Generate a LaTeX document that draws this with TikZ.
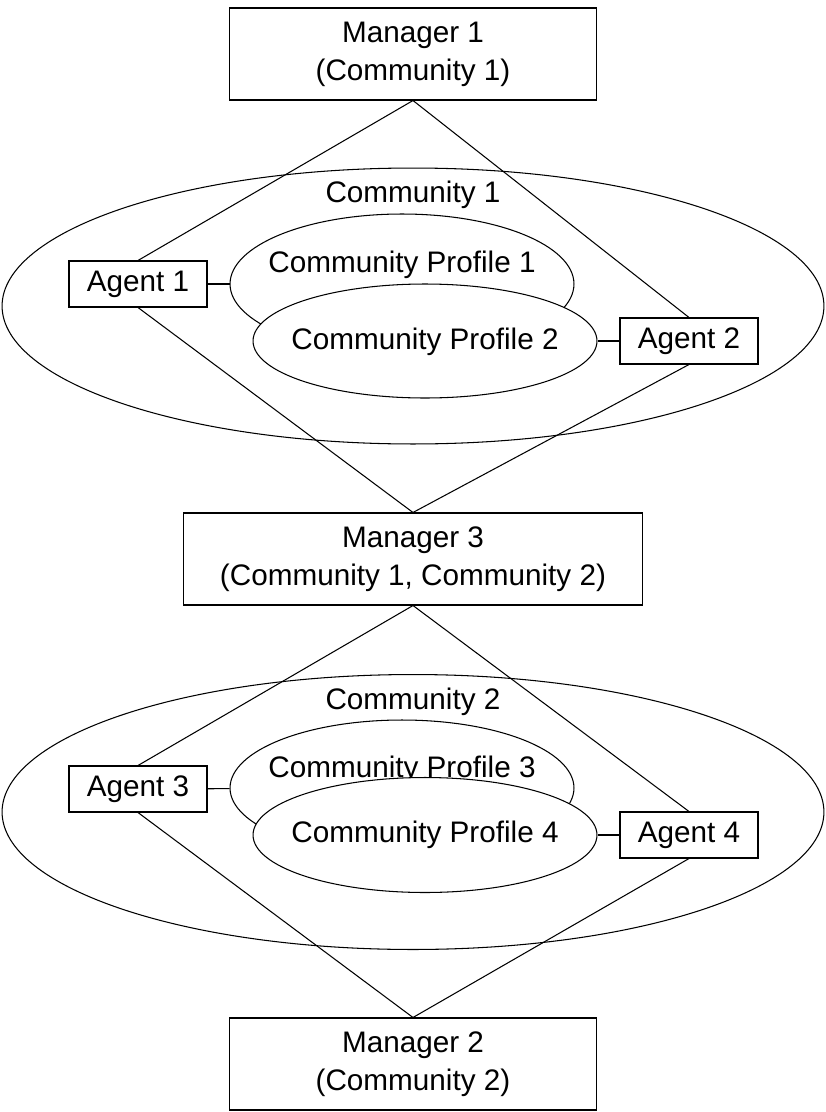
\documentclass[tikz,border=0pt]{standalone}
\usepackage{fontspec}
\setmainfont{Liberation Sans}
\usepackage{xcolor}
\usepackage{tikz}
\usetikzlibrary{positioning,shapes.geometric}
\definecolor{ink}{HTML}{000000}

\begin{document}
\begin{tikzpicture}[x=0.02cm,y=-0.02cm,line width=0.6pt,
  every node/.style={font=\fontsize{16.9}{21.5}\selectfont,text=ink},
  mg/.style={draw=ink,fill=white,inner sep=0pt,minimum width=7.34cm,minimum height=1.84cm,align=center},
  ag/.style={draw=ink,fill=white,inner sep=0pt,minimum width=2.76cm,minimum height=0.92cm},
  comm/.style={draw=ink,ellipse,inner sep=0pt,minimum width=16.44cm,minimum height=5.52cm},
  pf/.style={draw=ink,ellipse,inner sep=0pt,minimum width=6.88cm},
  e/.style={draw=ink}]
  \useasboundingbox (0,0) rectangle (825,1112);
  % first community
  \node[comm] (c1) at (413,306) {};
  \node (c1t) at (413,195) {Community 1};
  \node[pf,minimum height=2.8cm] (p1) at (402,284) {};
  \node (p1t) at (402,265) {Community Profile 1};
  \node[pf,fill=white,minimum height=2.28cm] (p2) at (425,341) {};
  \node (p2t) at (425,342) {Community Profile 2};
  % second community
  \node[comm,minimum height=5.5cm] (c2) at (413,812) {};
  \node (c2t) at (413,702) {Community 2};
  \node[pf,minimum height=2.72cm] (p3) at (402,788) {};
  \node (p3t) at (402,770) {Community Profile 3};
  \node[pf,fill=white,minimum height=2.3cm] (p4) at (425,835) {};
  \node (p4t) at (425,835) {Community Profile 4};
  % managers and agents
  \node[mg] (m1) at (413,54) {Manager 1\\(Community 1)};
  \node[mg,minimum width=9.18cm] (m3) at (413,559) {Manager 3\\(Community 1, Community 2)};
  \node[mg] (m2) at (413,1064) {Manager 2\\(Community 2)};
  \node[ag] (a1) at (138,284) {Agent 1};
  \node[ag] (a2) at (689,341) {Agent 2};
  \node[ag] (a3) at (138,789) {Agent 3};
  \node[ag] (a4) at (689,835) {Agent 4};
  \draw[e] (a1)--(p1); \draw[e] (a2)--(p2);
  \draw[e] (a3)--(p3); \draw[e] (a4)--(p4);
  \draw[e] (m1.south)--(a1.north); \draw[e] (m1.south)--(a2.north);
  \draw[e] (a1.south)--(m3.north); \draw[e] (a2.south)--(m3.north);
  \draw[e] (m3.south)--(a3.north); \draw[e] (m3.south)--(a4.north);
  \draw[e] (a3.south)--(m2.north); \draw[e] (a4.south)--(m2.north);
\end{tikzpicture}
\end{document}
